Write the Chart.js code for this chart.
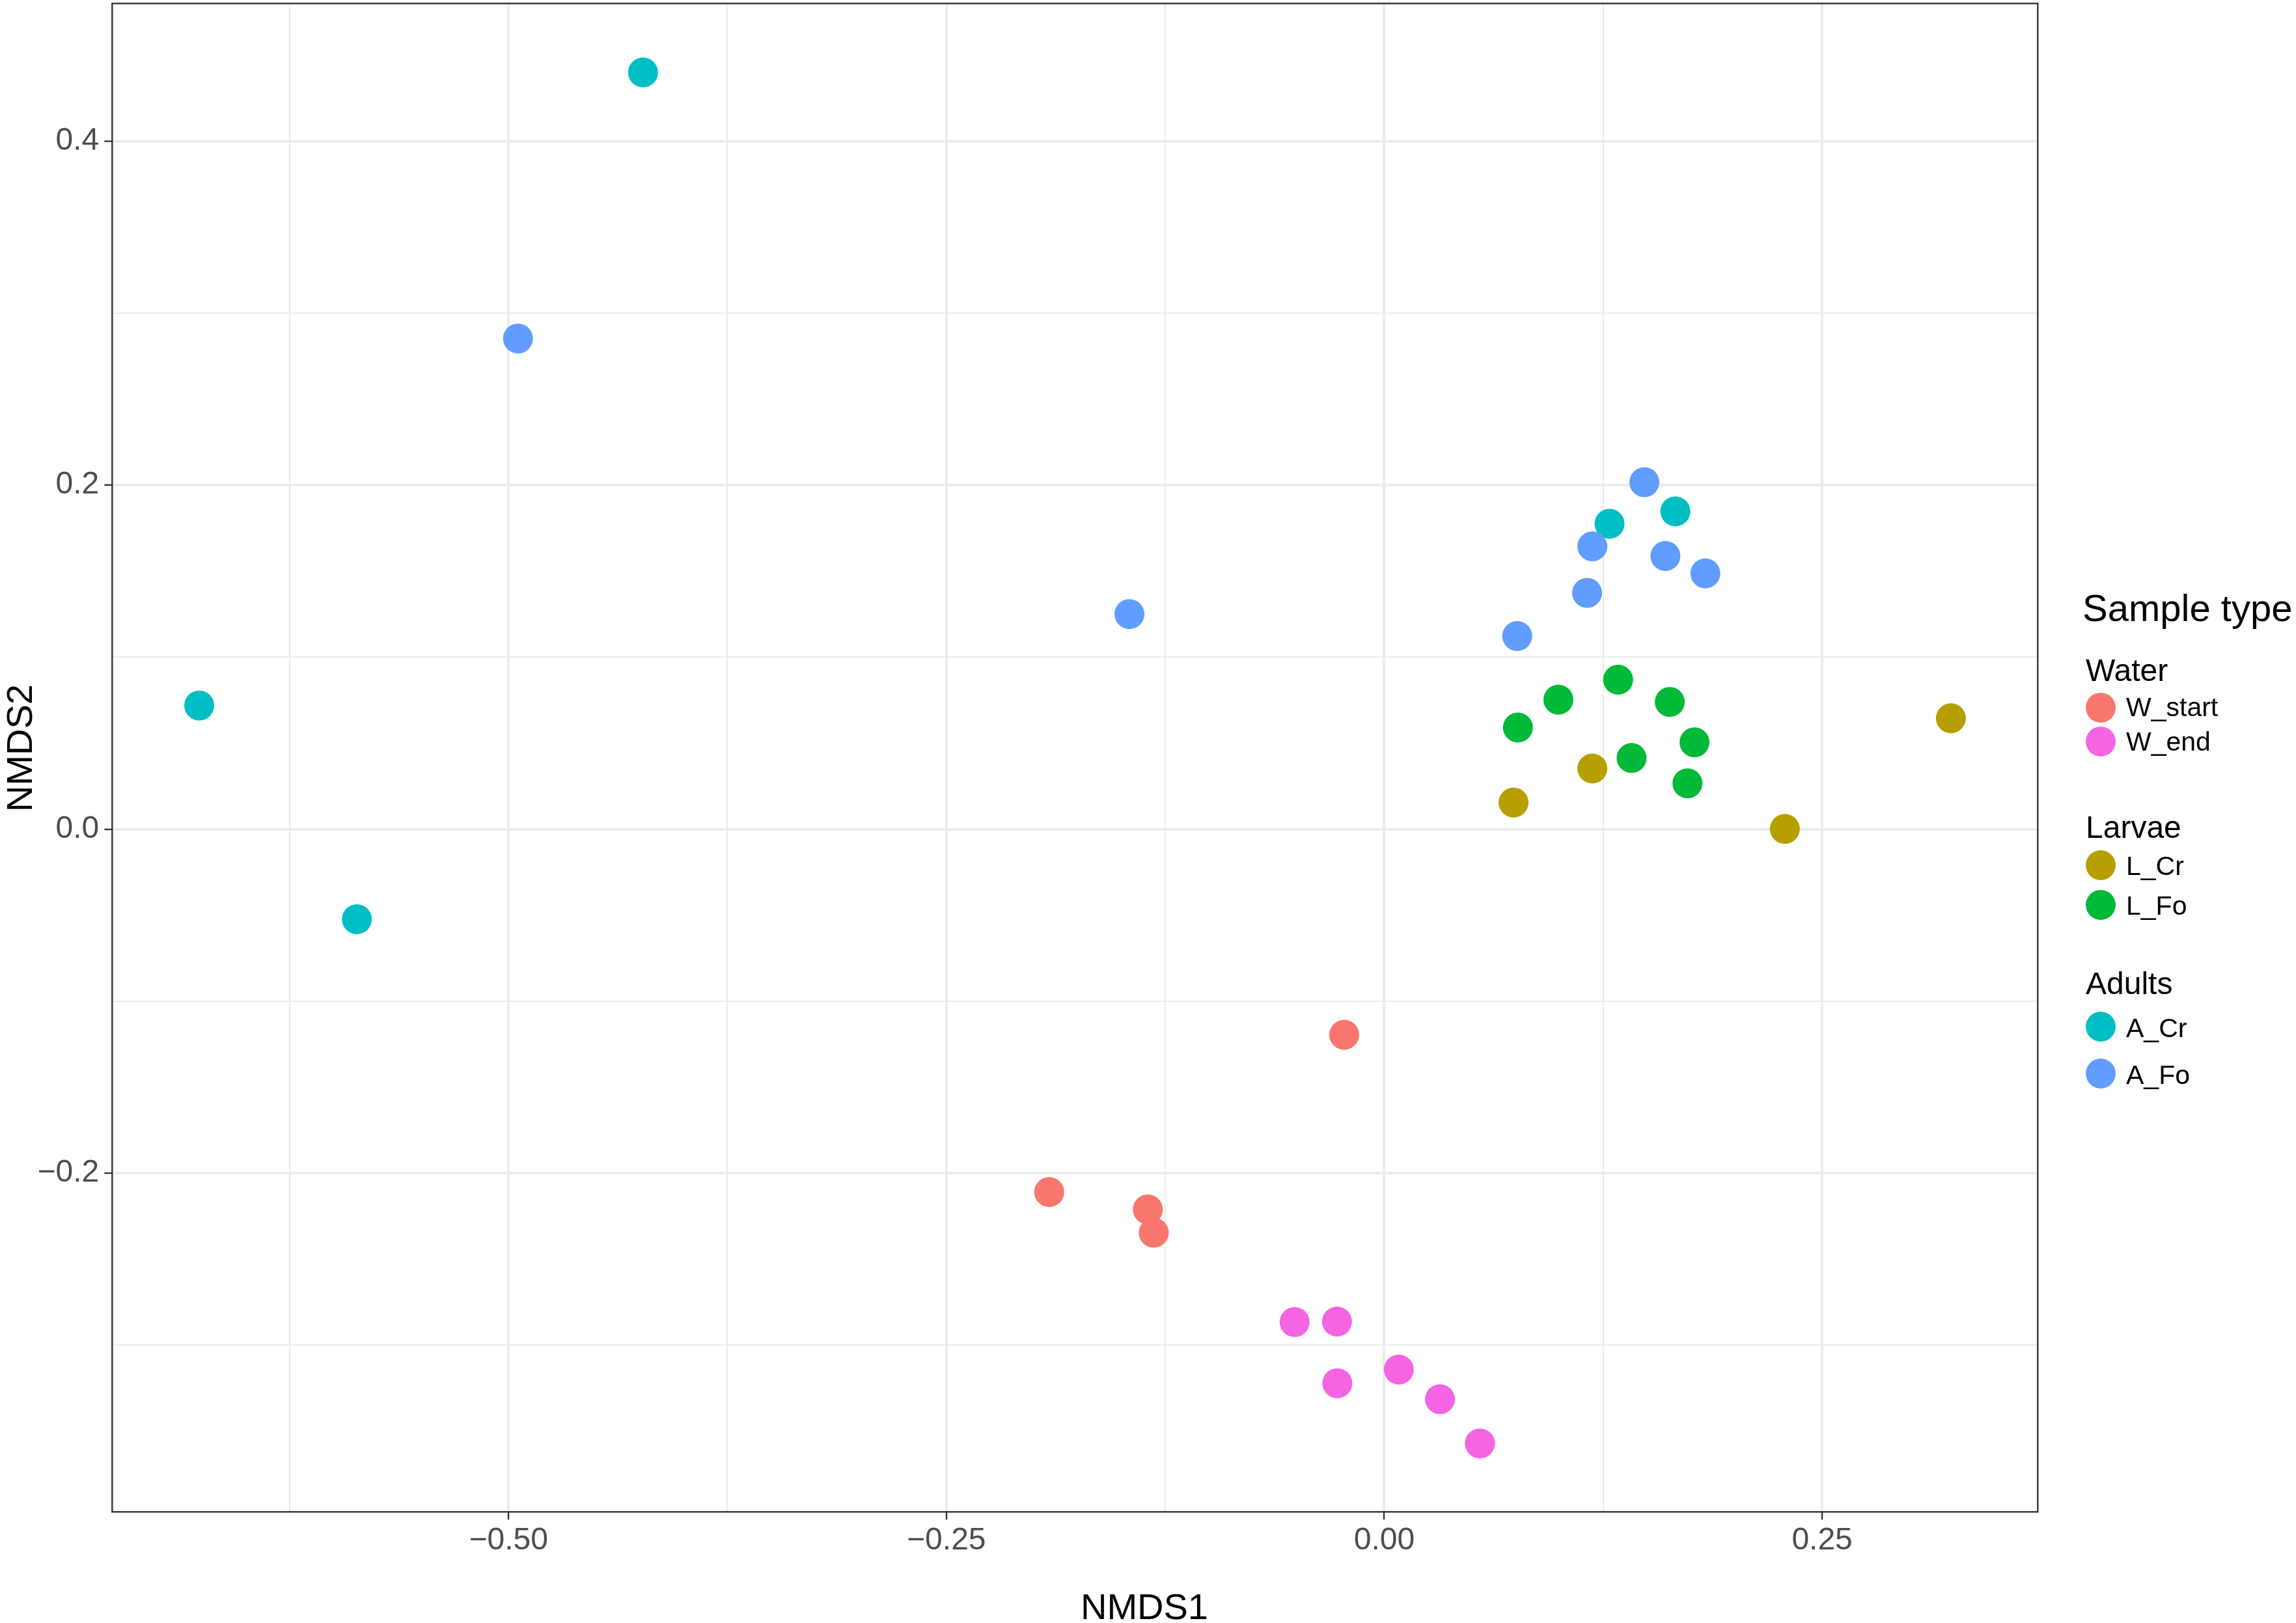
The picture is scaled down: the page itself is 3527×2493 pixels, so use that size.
<!DOCTYPE html>
<html>
<head>
<meta charset="utf-8">
<script src="https://cdn.jsdelivr.net/npm/chart.js@4.4.1/dist/chart.umd.min.js"></script>
<style>
html,body{margin:0;padding:0;background:#ffffff;}
#wrap{position:relative;width:3527px;height:2493px;}
canvas{display:block;}
</style>
</head>
<body>
<div id="wrap"><canvas id="c" width="3527" height="2493"></canvas></div>
<script>
// ---------------- data ----------------
const sampleTypes = ['W_start', 'W_end', 'L_Cr', 'L_Fo', 'A_Cr', 'A_Fo'];
const sampleGroups = ['Water', 'Water', 'Larvae', 'Larvae', 'Adults', 'Adults'];
const groupNames = ['Water', 'Larvae', 'Adults'];
const typeColors = ['#F8766D', '#F564E3', '#B79F00', '#00BA38', '#00BFC4', '#619CFF'];

const wStartX = [-0.0229, -0.1913, -0.1350, -0.1316];
const wStartY = [-0.1195, -0.2109, -0.2210, -0.2345];

const wEndX = [-0.0512, -0.0270, -0.0268, 0.0083, 0.0318, 0.0546];
const wEndY = [-0.2865, -0.2862, -0.3220, -0.3141, -0.3313, -0.3570];

const lCrX = [0.3235, 0.1188, 0.0738, 0.2287];
const lCrY = [0.0645, 0.0353, 0.0155, 0.0002];

const lFoX = [0.1335, 0.0994, 0.1630, 0.0763, 0.1771, 0.1412, 0.1731];
const lFoY = [0.0869, 0.0753, 0.0740, 0.0591, 0.0505, 0.0414, 0.0267];

const aCrX = [-0.4232, -0.6766, -0.5866, 0.1286, 0.1662];
const aCrY = [0.4399, 0.0719, -0.0523, 0.1776, 0.1848];

const aFoX = [-0.4946, -0.1455, 0.1485, 0.1188, 0.1605, 0.1833, 0.1158, 0.0759];
const aFoY = [0.2852, 0.1251, 0.2017, 0.1644, 0.1588, 0.1487, 0.1374, 0.1123];

const seriesX = [wStartX, wEndX, lCrX, lFoX, aCrX, aFoX];
const seriesY = [wStartY, wEndY, lCrY, lFoY, aCrY, aFoY];

const xMajorTicks = [-0.5, -0.25, 0, 0.25];
const xMinorTicks = [-0.625, -0.375, -0.125, 0.125];
const yMajorTicks = [-0.2, 0, 0.2, 0.4];
const yMinorTicks = [-0.3, -0.1, 0.1, 0.3];
const xLimits = [-0.7263, 0.3731];
const yLimits = [-0.3968, 0.4800];

const xTitle = 'NMDS1';
const yTitle = 'NMDS2';
const legendTitle = 'Sample type';

// ---------------- helpers ----------------
const FONT = '"Liberation Sans", Arial, Helvetica, sans-serif';
function fmt(v, d) {
  const s = Math.abs(v).toFixed(d);
  return (v < 0 ? '\u2212' : '') + s;
}
function isMajor(list, v) { return list.some(m => Math.abs(m - v) < 1e-9); }

const datasets = sampleTypes.map((name, i) => ({
  label: name,
  data: seriesX[i].map((x, j) => ({ x: x, y: seriesY[i][j] })),
  backgroundColor: typeColors[i],
  borderColor: typeColors[i],
  borderWidth: 0,
  pointRadius: 23,
  pointHoverRadius: 23,
  pointBorderWidth: 0,
  showLine: false,
  order: sampleTypes.length - i
}));

// border, axis titles and grouped legend
const decor = {
  id: 'decor',
  afterDraw(chart) {
    const ctx = chart.ctx;
    const a = chart.chartArea;
    ctx.save();
    // panel border
    ctx.strokeStyle = '#333333';
    ctx.lineWidth = 2.4;
    ctx.strokeRect(a.left, a.top, a.right - a.left, a.bottom - a.top);

    // axis titles
    ctx.fillStyle = '#000000';
    ctx.font = '56px ' + FONT;
    ctx.textAlign = 'center';
    ctx.textBaseline = 'alphabetic';
    ctx.fillText(xTitle, 1758, 2487);
    ctx.save();
    ctx.translate(49, 1149);
    ctx.rotate(-Math.PI / 2);
    ctx.fillText(yTitle, 0, 0);
    ctx.restore();

    // legend
    ctx.textAlign = 'left';
    ctx.font = '58px ' + FONT;
    ctx.fillText(legendTitle, 3199, 954);
    const headBase = [1046, 1287, 1527];
    const keyY = [1087, 1139, 1329, 1390, 1577, 1649];
    const labBase = [1100, 1153, 1344, 1405, 1593, 1665];
    groupNames.forEach((g, gi) => {
      ctx.font = '48px ' + FONT;
      ctx.fillStyle = '#000000';
      ctx.fillText(g, 3204, headBase[gi]);
    });
    sampleTypes.forEach((t, i) => {
      ctx.beginPath();
      ctx.fillStyle = typeColors[i];
      ctx.arc(3227, keyY[i], 23, 0, Math.PI * 2);
      ctx.fill();
      ctx.fillStyle = '#000000';
      ctx.font = '41px ' + FONT;
      ctx.fillText(t, 3266, labBase[i]);
    });
    ctx.restore();
  }
};

Chart.defaults.font.family = FONT;

new Chart(document.getElementById('c'), {
  type: 'scatter',
  data: { datasets: datasets },
  options: {
    responsive: false,
    devicePixelRatio: 1,
    animation: false,
    events: [],
    layout: { autoPadding: false, padding: { left: 0, top: 5.3, right: 396.7, bottom: 0 } },
    plugins: {
      legend: { display: false },
      tooltip: { enabled: false },
      title: { display: false }
    },
    scales: {
      x: {
        type: 'linear',
        position: 'bottom',
        min: xLimits[0],
        max: xLimits[1],
        afterBuildTicks: s => { s.ticks = xMinorTicks.concat(xMajorTicks).map(v => ({ value: v })); },
        afterFit: s => { s.height = 2493 - 2322.3; s.paddingLeft = 0; s.paddingRight = 0; },
        border: { display: false },
        grid: {
          color: '#EBEBEB',
          lineWidth: c => (c.tick && isMajor(xMajorTicks, c.tick.value)) ? 4 : 2,
          drawTicks: true,
          tickLength: 12,
          tickWidth: 2.4,
          tickColor: c => (c.tick && isMajor(xMajorTicks, c.tick.value)) ? '#333333' : 'rgba(0,0,0,0)'
        },
        ticks: {
          autoSkip: false,
          maxRotation: 0,
          minRotation: 0,
          padding: 4,
          color: '#4D4D4D',
          font: { size: 48, family: FONT },
          callback: v => isMajor(xMajorTicks, v) ? fmt(v, 2) : ''
        },
        title: { display: false }
      },
      y: {
        type: 'linear',
        position: 'left',
        min: yLimits[0],
        max: yLimits[1],
        afterBuildTicks: s => { s.ticks = yMinorTicks.concat(yMajorTicks).map(v => ({ value: v })); },
        afterFit: s => { s.width = 172.3; s.paddingTop = 0; s.paddingBottom = 0; },
        border: { display: false },
        grid: {
          color: '#EBEBEB',
          lineWidth: c => (c.tick && isMajor(yMajorTicks, c.tick.value)) ? 4 : 2,
          drawTicks: true,
          tickLength: 12,
          tickWidth: 2.4,
          tickColor: c => (c.tick && isMajor(yMajorTicks, c.tick.value)) ? '#333333' : 'rgba(0,0,0,0)'
        },
        ticks: {
          autoSkip: false,
          padding: 8,
          color: '#4D4D4D',
          font: { size: 48, family: FONT },
          callback: v => isMajor(yMajorTicks, v) ? fmt(v, 1) : ''
        },
        title: { display: false }
      }
    }
  },
  plugins: [decor]
});
</script>
</body>
</html>
